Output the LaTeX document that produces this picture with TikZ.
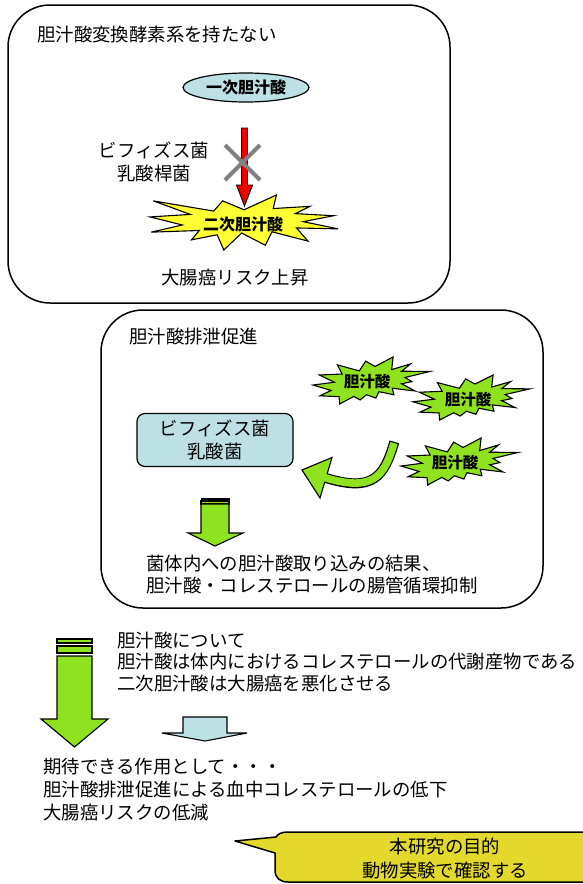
\documentclass[tikz,border=0pt]{standalone}
\usepackage{fontspec}
\setmainfont{Noto Sans CJK JP}
\usetikzlibrary{shapes.geometric}
\definecolor{lblue}{RGB}{189,224,228}
\definecolor{sgreen}{RGB}{142,226,32}
\definecolor{syellow}{RGB}{255,255,51}
\definecolor{cyellow}{RGB}{228,216,44}
\definecolor{ared}{RGB}{240,0,0}
\definecolor{xgray}{RGB}{128,128,128}
\newcommand\SealOne{(108,58) -- (145.22,0) -- (141.55,53.25) -- (183.8,44.57) -- (167.02,73.15) -- (210.97,81.37) -- (176.07,104.75) -- (216,132.9) -- (168.37,129.42) -- (181.45,180.95) -- (140.2,144.57) -- (132.47,197.37) -- (105.32,149.35) -- (84.85,216) -- (77.15,156.27) -- (47.62,176.17) -- (56.67,139.37) -- (1.35,145.87) -- (37.22,117.75) -- (0,86.15) -- (46.27,76.17) -- (3.7,22.95) -- (73.12,63.2) -- (83.52,22.95) -- cycle}
\newcommand\SealTwo{(114.62,43.42) -- (147.9,0) -- (145.25,57.77) -- (180.07,31.72) -- (163.8,65.32) -- (216,66.45) -- (169.85,94.02) -- (182.7,112.9) -- (163.8,123.1) -- (188.77,156.32) -- (146.4,143.5) -- (149.42,173.7) -- (121.8,159.35) -- (116.12,188.42) -- (98.72,173.7) -- (87,197.12) -- (75.27,181.25) -- (49.17,216) -- (48.05,182.4) -- (12.85,178.25) -- (33.3,153.7) -- (0,128.77) -- (39.35,115.92) -- (11.72,82.7) -- (53.72,78.17) -- (45.02,36.25) -- (85.5,63.82) -- (97.22,18.87) -- cycle}
\newcommand\drawseal[6]{%
  \begin{scope}[shift={(#2,#3)},xscale=#4/216,yscale=#5/216]
    \draw[line width=1.1pt, fill=#6, line join=miter] #1;
  \end{scope}}
\begin{document}
\begin{tikzpicture}[x=1pt,y=-1pt,
  every node/.style={inner sep=0pt},
  txt/.style={font=\fontsize{18.4}{22}\selectfont, align=left},
  ctxt/.style={font=\fontsize{18.4}{23}\selectfont, align=center},
  btxt/.style={font=\fontsize{15.5}{18}\selectfont\bfseries},
  frame/.style={draw=black, line width=1.5pt, rounded corners=42pt},
  blk/.style={draw=black, line width=1.1pt, line join=miter},
]
\useasboundingbox (0,0) rectangle (583,884);
\clip (0,0) rectangle (583,884);
\fill[white] (0,0) rectangle (583,884);

% ---------- box 1
\draw[frame] (8,5) rectangle (450,303);
\node[txt, anchor=west] (t1) at (37,35) {胆汁酸変換酵素系を持たない};
\node[ellipse, draw, line width=1.2pt, fill=lblue, minimum width=126pt, minimum height=29pt,
      font=\fontsize{16}{18}\selectfont\bfseries] (p1) at (246,87.5) {一次胆汁酸};
\drawseal{\SealOne}{150}{195}{188}{55}{syellow}
\node[font=\fontsize{16}{18}\selectfont\bfseries] (s1) at (243,224) {二次胆汁酸};
\draw[blk, line width=0.9pt, fill=ared] (241.5,128) -- (247.5,128) -- (247.5,185) -- (252.5,185)
   -- (244.5,206) -- (236.5,185) -- (241.5,185) -- cycle;
\draw[xgray, line width=4pt] (225,145) -- (260,180) (225,180) -- (260,145);
\node[ctxt] (bac1) at (154,161.5) {ビフィズス菌\\乳酸桿菌};
\node[ctxt] (risk) at (235,278) {大腸癌リスク上昇};

% ---------- box 2
\draw[frame] (101,310) rectangle (543,608);
\node[txt, anchor=west] (t2) at (129,337) {胆汁酸排泄促進};
\drawseal{\SealTwo}{313}{357}{117}{47}{sgreen}
\drawseal{\SealTwo}{413}{375}{117}{45}{sgreen}
\drawseal{\SealTwo}{401}{438}{117}{47}{sgreen}
\node[btxt] (g1) at (367,382) {胆汁酸};
\node[btxt] (g2) at (468,400) {胆汁酸};
\node[btxt] (g3) at (455,463) {胆汁酸};
\node[draw, line width=1.2pt, fill=lblue, rounded corners=8pt, minimum width=156pt,
      minimum height=53pt, ctxt] (bac2) at (215,440) {ビフィズス菌\\乳酸菌};
% curved arrow
\draw[blk, fill=sgreen] (302,470) -- (332,457.5) -- (320,498) -- cycle;
\draw[black, line width=10pt, shorten <=-1.2pt] (394,443) .. controls (384,478) and (372,492) .. (326,478);
\draw[sgreen, line width=7.6pt, shorten >=-2.5pt] (394,443) .. controls (384,478) and (372,492) .. (326,478);
% striped down arrow
\fill[black] (200.5,498) rectangle (229.5,501);
\draw[blk, fill=sgreen] (201,501) rectangle (229,504);
\draw[blk, fill=sgreen] (201,504) -- (229,504) -- (229,533) -- (243,533) -- (215,546)
   -- (188,533) -- (201,533) -- cycle;
\node[txt, anchor=west] (res) at (146,574) {菌体内への胆汁酸取り込みの結果、\\胆汁酸・コレステロールの腸管循環抑制};

% ---------- lower part
\draw[blk, fill=sgreen] (57,639) rectangle (92,643);
\draw[blk, fill=sgreen] (57,646) rectangle (92,653);
\draw[blk, fill=sgreen] (57,656) -- (92,656) -- (92,719) -- (108,719) -- (74.5,747)
   -- (41,719) -- (57,719) -- cycle;
\node[font=\fontsize{18.4}{21.5}\selectfont, align=left, anchor=west] (about) at (117,661.5)
  {胆汁酸について\\胆汁酸は体内におけるコレステロールの代謝産物である\\二次胆汁酸は大腸癌を悪化させる};
\draw[blk, fill=lblue] (183,717) -- (227,717) -- (227,733) -- (247,733) -- (205,741)
   -- (162,733) -- (183,733) -- cycle;
\node[font=\fontsize{18.4}{23}\selectfont, align=left, anchor=west] (exp) at (43,790)
  {期待できる作用として・・・\\胆汁酸排泄促進による血中コレステロールの低下\\大腸癌リスクの低減};

% ---------- callout
\draw[line width=1.5pt, fill=cyellow, line join=round] (235,841) -- (276,837)
   .. controls (278,834) and (281,832) .. (288,832) -- (600,832) -- (600,882) -- (288,882)
   .. controls (280,882) and (275,878) .. (275,870) -- (275,853) -- cycle;
\node[font=\fontsize{18.4}{24}\selectfont, align=center] (goal) at (445,859)
  {本研究の目的\\動物実験で確認する};
\end{tikzpicture}
\end{document}
